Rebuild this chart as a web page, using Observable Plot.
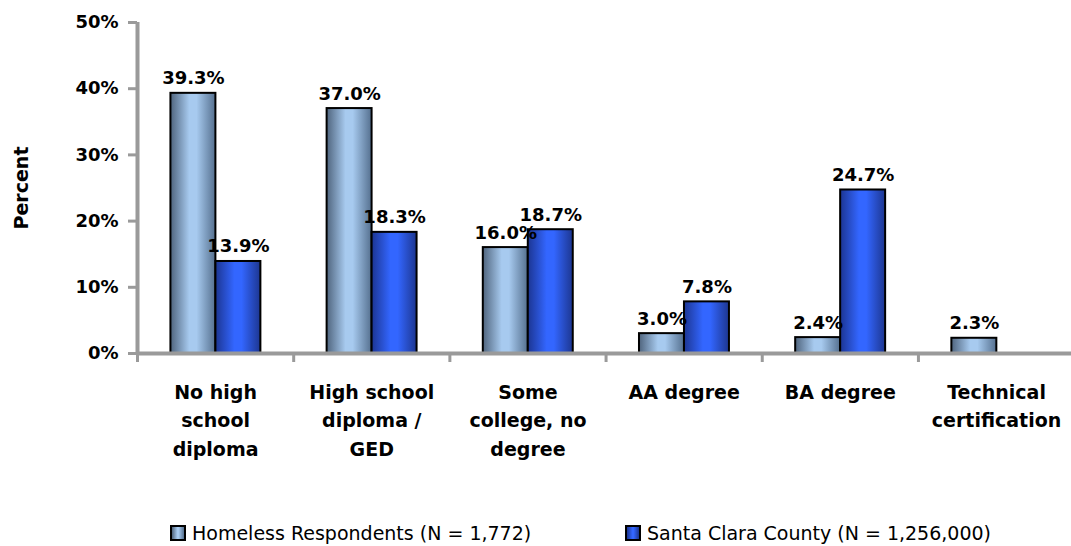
<!DOCTYPE html>
<html>
<head>
<meta charset="utf-8">
<script src="https://cdn.jsdelivr.net/npm/d3@7"></script>
<script src="https://cdn.jsdelivr.net/npm/@observablehq/plot@0.6"></script>
<style>
  html, body { margin: 0; padding: 0; background: #fff; overflow: hidden; }
  #wrap { width: 1071px; height: 546px; position: relative; font-family: "DejaVu Sans", sans-serif; }
  #legend { position: absolute; left: 0; top: 521px; width: 1071px; height: 24px; font-size: 19px; color: #000; }
  .item { position: absolute; top: 0; height: 24px; display: flex; align-items: center; white-space: nowrap; }
  .sw { width: 16px; height: 16px; border: 2px solid #000; margin-right: 6px; box-sizing: border-box; }
</style>
</head>
<body>
<div id="wrap"><div id="chart"></div><div id="legend"></div></div>
<script>
// ---- data ----
const categories = ["No high school diploma", "High school diploma / GED", "Some college, no degree", "AA degree", "BA degree", "Technical certification"];
const categoryLabels = ["No high\nschool\ndiploma", "High school\ndiploma /\nGED", "Some\ncollege, no\ndegree", "AA degree", "BA degree", "Technical\ncertification"];
const seriesNames = ["Homeless Respondents (N = 1,772)", "Santa Clara County (N = 1,256,000)"];
const homeless = [39.3, 37.0, 16.0, 3.0, 2.4, 2.3];
const county = [13.9, 18.3, 18.7, 7.8, 24.7, null];
const yTicks = [0, 10, 20, 30, 40, 50];

// ---- table built from the arrays ----
const rows = [];
categories.forEach((c, i) => {
  [homeless, county].forEach((vals, s) => {
    if (vals[i] != null) rows.push({i, category: c, s, series: seriesNames[s], value: vals[i]});
  });
});

const barStart = [0.214, 0.502];  // offset of each series inside a category slot
const barWidth = 0.288;
const gradIds = ["url(#gradHomeless)", "url(#gradCounty)"];
const axisGray = "#9a9a9a";

const W = 1071, H = 492;
const plot = Plot.plot({
  width: W,
  height: H,
  marginLeft: 137,
  marginRight: 0,
  marginTop: 22,
  marginBottom: 139,
  style: {fontFamily: "DejaVu Sans, sans-serif", fontSize: "18px", fontWeight: "bold", color: "#000", background: "#fff"},
  x: {domain: [0, 5.98]},
  y: {domain: [0, 50]},
  marks: [
    Plot.rectY(rows, {
      x1: d => d.i + barStart[d.s],
      x2: d => d.i + barStart[d.s] + barWidth,
      y1: 0,
      y2: "value",
      fill: d => gradIds[d.s],
      stroke: "#000",
      strokeWidth: 2
    }),
    Plot.text(rows, {
      x: d => d.i + barStart[d.s] + barWidth / 2,
      y: "value",
      text: d => d.value.toFixed(1) + "%",
      lineAnchor: "bottom",
      dy: -9,
      fontSize: 18,
      fontWeight: "bold",
      fill: "#000"
    }),
    Plot.ruleY([0], {stroke: axisGray, strokeWidth: 4}),
    Plot.ruleX([0], {stroke: axisGray, strokeWidth: 4}),
    Plot.axisY({ticks: yTicks, tickFormat: d => d + "%", tickSize: 9, tickPadding: 10, stroke: axisGray, strokeWidth: 3, label: null, fontSize: 18, fontWeight: "bold"}),
    Plot.axisX({ticks: [0, 1, 2, 3, 4, 5], tickFormat: () => "", tickSize: 9, stroke: axisGray, strokeWidth: 3, label: null}),
    Plot.text(categoryLabels, {
      x: (d, i) => i + 0.5,
      y: 0,
      text: d => d,
      lineAnchor: "top",
      dy: 25,
      lineHeight: 1.5,
      fontSize: 19,
      fontWeight: "bold",
      fill: "#000"
    }),
    Plot.text(["Percent"], {
      frameAnchor: "left",
      textAnchor: "middle",
      text: d => d,
      rotate: -90,
      dx: -116,
      fontSize: 19,
      fontWeight: "bold",
      fill: "#000"
    })
  ]
});

// gradient fills for the bars
const defs = d3.select(plot).insert("defs", ":first-child");
function grad(id, stops) {
  const g = defs.append("linearGradient").attr("id", id).attr("x1", "0").attr("x2", "1").attr("y1", "0").attr("y2", "0");
  stops.forEach(([o, c]) => g.append("stop").attr("offset", o).attr("stop-color", c));
}
grad("gradHomeless", [[0, "#4f647d"], [0.42, "#a7caef"], [0.58, "#a7caef"], [1, "#55708f"]]);
grad("gradCounty", [[0, "#1c3592"], [0.42, "#3366ff"], [0.58, "#3366ff"], [1, "#1d3690"]]);

document.getElementById("chart").appendChild(plot);

// legend below the chart
const legend = d3.select("#legend");
const swatchBg = [
  "linear-gradient(to right, #4f647d, #a7caef 45%, #a7caef 55%, #55708f)",
  "linear-gradient(to right, #1c3592, #3366ff 45%, #3366ff 55%, #1d3690)"
];
const legendLeft = [170, 625];
seriesNames.forEach((name, s) => {
  const item = legend.append("div").attr("class", "item").style("left", legendLeft[s] + "px");
  item.append("div").attr("class", "sw").style("background", swatchBg[s]);
  item.append("span").text(name);
});
</script>
</body>
</html>
